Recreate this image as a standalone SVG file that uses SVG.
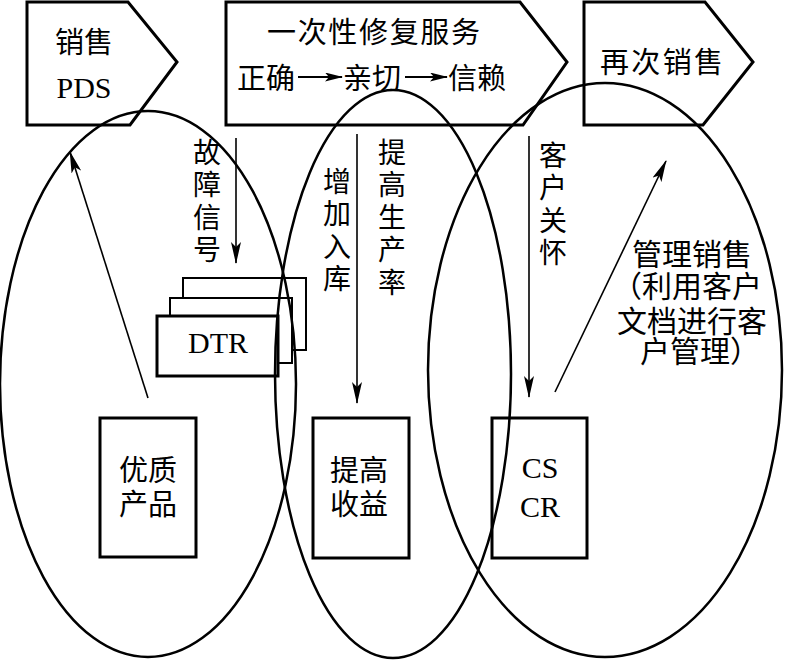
<svg xmlns="http://www.w3.org/2000/svg" width="787" height="660" viewBox="0 0 787 660">
<style>
.bg{fill:#fff}
.ell{fill:none;stroke:#000;stroke-width:2.5}
.pent{fill:none;stroke:#000;stroke-width:3;stroke-linejoin:miter}
.box{fill:none;stroke:#000;stroke-width:3}
.thin{fill:none;stroke:#000;stroke-width:2}
.ln{fill:none;stroke:#000;stroke-width:1.6}
.cj{font-family:"Noto Sans CJK SC","Liberation Serif",serif;font-size:29px;fill:#000}
.lt{font-family:"Liberation Serif","Times New Roman",serif;font-size:30px;fill:#000}
.mid{text-anchor:middle}
.vt{font-family:"Noto Sans CJK SC","Liberation Serif",serif;font-size:28px;fill:#000;writing-mode:vertical-rl;letter-spacing:4.5px}
</style>
<defs>
<marker id="ah" viewBox="0 0 22 10" markerWidth="22" markerHeight="10" markerUnits="userSpaceOnUse" refX="21" refY="5" orient="auto">
<path d="M0,0 L22,5 L0,10 L5,5 Z" fill="#000"/>
</marker>
<marker id="ahs" viewBox="0 0 18 9" markerWidth="18" markerHeight="9" markerUnits="userSpaceOnUse" refX="17" refY="4.5" orient="auto">
<path d="M0,0 L18,4.5 L0,9 L4,4.5 Z" fill="#000"/>
</marker>
</defs>
<rect class="bg" x="0" y="0" width="787" height="660"/>

<g id="ellipses">
<ellipse id="ell1" class="ell" cx="148" cy="384" rx="148" ry="273"/>
<ellipse id="ell2" class="ell" cx="393" cy="374" rx="118" ry="284"/>
<ellipse id="ell3" class="ell" cx="605" cy="370" rx="177" ry="287"/>
</g>

<g id="node-sales">
<polygon class="pent" points="27,2 128,2 177,62 130,125 27,125"/>
<text class="cj mid" x="84" y="53">销售</text>
<text class="lt mid" x="84" y="98">PDS</text>
</g>

<g id="node-repair">
<polygon class="pent" points="226,2 520,2 567,62 523,125 226,125"/>
<text class="cj" x="267" y="43" textLength="213" lengthAdjust="spacing">一次性修复服务</text>
<text class="cj" x="237" y="89">正确</text>
<text class="cj" x="343" y="89">亲切</text>
<text class="cj" x="448" y="89">信赖</text>
</g>

<g id="node-resale">
<polygon class="pent" points="584,2 705,2 753,62 703,125 584,125"/>
<text class="cj" x="600" y="73" textLength="123" lengthAdjust="spacing">再次销售</text>
</g>

<g id="node-dtr">
<polyline class="thin" points="183,298 183,278 306,278 306,350 292,350"/>
<polyline class="thin" points="170,316 170,298 292,298 292,363 278,363"/>
<rect class="box" x="157" y="316" width="121" height="60"/>
<text class="lt mid" x="218" y="353">DTR</text>
</g>

<g id="node-quality">
<rect class="box" x="100" y="418" width="96" height="139"/>
<text class="cj mid" x="148" y="481">优质</text>
<text class="cj mid" x="148" y="515">产品</text>
</g>

<g id="node-profit">
<rect class="box" x="313" y="418" width="96" height="140"/>
<text class="cj mid" x="359" y="481">提高</text>
<text class="cj mid" x="359" y="515">收益</text>
</g>

<g id="node-cscr">
<rect class="box" x="492" y="418" width="95" height="140"/>
<text class="lt mid" x="540" y="478">CS</text>
<text class="lt mid" x="540" y="517">CR</text>
</g>

<g id="connectors">
<line class="ln" x1="148" y1="398" x2="70" y2="152" marker-end="url(#ah)"/>
<line class="ln" x1="236" y1="138" x2="236" y2="263" marker-end="url(#ah)"/>
<line class="ln" x1="357" y1="134" x2="357" y2="403" marker-end="url(#ah)"/>
<line class="ln" x1="529" y1="136" x2="529" y2="397" marker-end="url(#ah)"/>
<line class="ln" x1="555" y1="392" x2="666" y2="161" marker-end="url(#ah)"/>
<line stroke="#000" stroke-width="2" x1="298" y1="77" x2="342" y2="77" marker-end="url(#ahs)"/>
<line stroke="#000" stroke-width="2" x1="405" y1="77" x2="447" y2="77" marker-end="url(#ahs)"/>
</g>

<g id="labels">
<text class="vt" x="207" y="138">故障信号</text>
<text class="vt" x="337" y="167">增加入库</text>
<text class="vt" x="392" y="138">提高生产率</text>
<text class="vt" x="553" y="141">客户关怀</text>
<text class="cj" style="font-size:30px"><tspan x="632" y="265">管理销售</tspan><tspan x="612" y="297">（利用客户</tspan><tspan x="617" y="332">文档进行客</tspan><tspan x="640" y="362">户管理）</tspan></text>
</g>
</svg>
